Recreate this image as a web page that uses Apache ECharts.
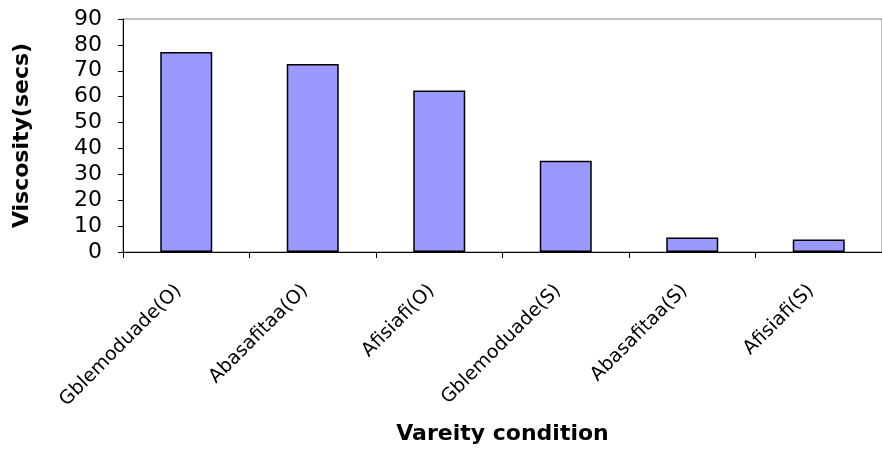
<!DOCTYPE html>
<html><head><meta charset="utf-8">
<script src="https://cdn.jsdelivr.net/npm/echarts@6/dist/echarts.min.js"></script>
<style>html,body{margin:0;padding:0;background:#fff}#c{width:882px;height:450px}</style>
</head><body><div id="c"></div>
<script>
const categories = ["Gblemoduade(O)", "Abasafitaa(O)", "Afisiafi(O)", "Gblemoduade(S)", "Abasafitaa(S)", "Afisiafi(S)"];
const viscosity = [77.3, 72.6, 62.4, 35.2, 5.6, 4.8];
const yTicks = { min: 0, max: 90, interval: 10 };
const xTitle = "Vareity condition";
const yTitle = "Viscosity(secs)";

const chart = echarts.init(document.getElementById('c'), null, { renderer: 'canvas' });
const font = '"DejaVu Sans", Arial, sans-serif';
chart.setOption({
  animation: false,
  backgroundColor: '#fff',
  grid: { left: 123, top: 19, right: -7, bottom: 198, show: true, borderColor: '#808080', borderWidth: 1 },
  xAxis: {
    type: 'category', data: categories,
    axisLine: { lineStyle: { color: '#000', width: 1 } },
    axisTick: { show: true, alignWithLabel: false, length: 6, lineStyle: { color: '#000' } },
    axisLabel: { rotate: 45, fontSize: 19, color: '#000', fontFamily: font, margin: 28, interval: 0, padding: [0, 11, 0, 0] },
    name: xTitle, nameLocation: 'middle', nameGap: 171,
    nameTextStyle: { fontSize: 22, fontWeight: 'bold', color: '#000', fontFamily: font }
  },
  yAxis: {
    type: 'value', min: yTicks.min, max: yTicks.max, interval: yTicks.interval,
    axisLine: { show: true, lineStyle: { color: '#000', width: 1 } },
    axisTick: { show: true, length: 5, lineStyle: { color: '#000' } },
    splitLine: { show: false },
    axisLabel: { fontSize: 22, color: '#000', fontFamily: font, margin: 21 },
    name: yTitle, nameLocation: 'middle', nameGap: 90, nameRotate: 90,
    nameTextStyle: { fontSize: 22, fontWeight: 'bold', color: '#000', fontFamily: font }
  },
  series: [{
    type: 'bar', data: viscosity, barWidth: 52,
    itemStyle: { color: '#9999FF', borderColor: '#000', borderWidth: 1.5 }
  }]
});
</script></body></html>
